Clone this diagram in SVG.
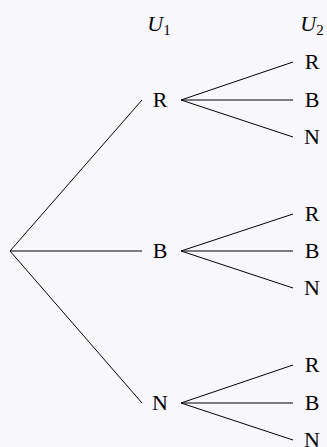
<svg xmlns="http://www.w3.org/2000/svg" width="327" height="447" viewBox="0 0 327 447">
<style>
text{font-family:"Liberation Serif","Times New Roman",serif;font-size:22px;fill:#000;text-anchor:middle}
.it{font-style:italic}
.sub{font-size:15px;font-style:normal}
line{stroke:#000;stroke-width:1}
</style>
<rect width="327" height="447" fill="#f8f8fc"/>
<g id="headers">
<text x="159" y="31"><tspan class="it">U</tspan><tspan class="sub" dy="4">1</tspan></text>
<text x="312" y="31"><tspan class="it">U</tspan><tspan class="sub" dy="4">2</tspan></text>
</g>
<g id="connectors">
<line x1="10" y1="251" x2="142" y2="100"/>
<line x1="10" y1="251" x2="142" y2="251"/>
<line x1="10" y1="251" x2="142" y2="403"/>
<line x1="181" y1="100" x2="293" y2="62"/>
<line x1="181" y1="100" x2="293" y2="100"/>
<line x1="181" y1="100" x2="293" y2="137"/>
<line x1="181" y1="251" x2="293" y2="214"/>
<line x1="181" y1="251" x2="293" y2="251"/>
<line x1="181" y1="251" x2="293" y2="288"/>
<line x1="181" y1="403" x2="293" y2="365"/>
<line x1="181" y1="403" x2="293" y2="403"/>
<line x1="181" y1="403" x2="293" y2="440"/>
</g>
<g id="n1R"><text x="160" y="107">R</text></g>
<g id="n1B"><text x="160" y="258">B</text></g>
<g id="n1N"><text x="160" y="410">N</text></g>
<g id="n2RR"><text x="312" y="69">R</text></g>
<g id="n2RB"><text x="312" y="107">B</text></g>
<g id="n2RN"><text x="312" y="144">N</text></g>
<g id="n2BR"><text x="312" y="221">R</text></g>
<g id="n2BB"><text x="312" y="258">B</text></g>
<g id="n2BN"><text x="312" y="295">N</text></g>
<g id="n2NR"><text x="312" y="372">R</text></g>
<g id="n2NB"><text x="312" y="410">B</text></g>
<g id="n2NN"><text x="312" y="447">N</text></g>
</svg>
